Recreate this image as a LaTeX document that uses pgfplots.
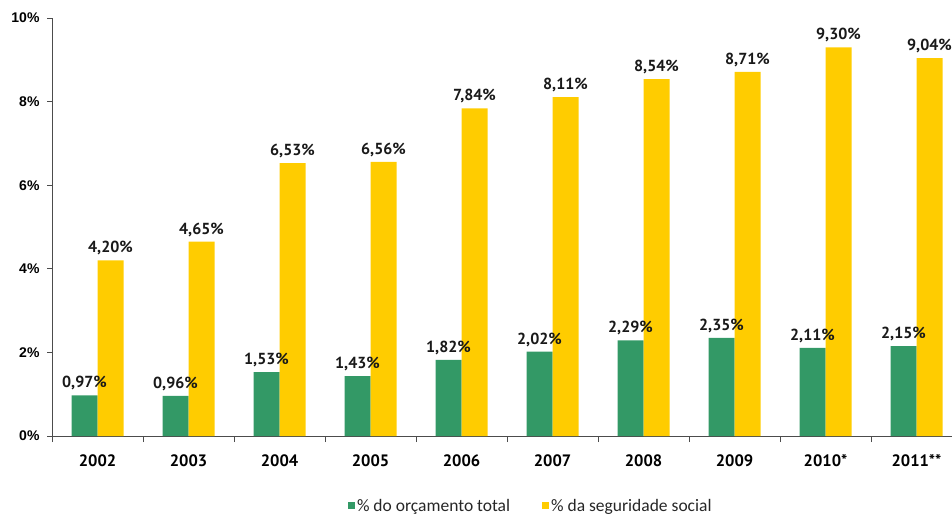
\documentclass[border=0pt]{standalone}
\usepackage{fontspec}
\setmainfont{PT Sans}
\newfontfamily\arialf{Liberation Sans}
\newfontfamily\calib{Carlito}
\usepackage{pgfplots}
\pgfplotsset{compat=1.18}
\definecolor{cgreen}{HTML}{339966}
\definecolor{cyellow}{HTML}{FFCC00}
\begin{document}
\begin{tikzpicture}[x=1pt,y=1pt]
\useasboundingbox (0,0) rectangle (952,515);
\begin{axis}[
  at={(52pt,79pt)}, anchor=south west,
  scale only axis, width=900pt, height=418pt,
  xmin=-0.5, xmax=9.39, ymin=0, ymax=10,
  clip=false,
  axis lines=left,
  axis line style={-, draw=black!70, line width=0.8pt},
  ybar=0pt, bar width=26pt,
  ytick={0,2,4,6,8,10},
  yticklabel={\pgfmathprintnumber{\tick}\%},
  yticklabel style={font=\arialf\bfseries\fontsize{14}{14}\selectfont, xshift=-4pt},
  ytick style={draw=black!70, line width=0.8pt},
  major tick length=5pt, tick align=outside,
  /pgf/number format/assume math mode=true,
  xtick={0,...,9},
  xticklabels={2002,2003,2004,2005,2006,2007,2008,2009,2010*,2011**},
  xticklabel style={font=\bfseries\fontsize{16.5}{16.5}\selectfont, anchor=north, yshift=-10pt},
  xtick style={draw=none},
  extra x ticks={-0.5,0.5,1.5,2.5,3.5,4.5,5.5,6.5,7.5,8.5},
  extra x tick labels={},
  extra x tick style={xtick style={draw=black!70, line width=0.8pt}, major tick length=6pt, tick align=outside},
  nodes near coords={\pgfmathprintnumber[fixed,fixed zerofill,precision=2,use comma,assume math mode=true]{\pgfplotspointmeta}\%},
  nodes near coords style={font=\bfseries\fontsize{16}{16}\selectfont, text=black!90, inner sep=5pt},
  legend style={at={(0.532,-0.167)}, anchor=center, draw=none, fill=none,
    font=\calib\fontsize{17.5}{17.5}\selectfont, text=black!85,
    legend columns=2,
    /tikz/every even column/.append style={column sep=30pt}},
  legend image code/.code={\fill[#1] (0pt,-3.5pt) rectangle (7pt,3.5pt);},
]
\addplot[fill=cgreen, draw=none] coordinates {
  (0,0.97) (1,0.96) (2,1.53) (3,1.43) (4,1.82) (5,2.02) (6,2.29) (7,2.35) (8,2.11) (9,2.15)};
\addplot[fill=cyellow, draw=none] coordinates {
  (0,4.20) (1,4.65) (2,6.53) (3,6.56) (4,7.84) (5,8.11) (6,8.54) (7,8.71) (8,9.30) (9,9.04)};
\legend{\% do orçamento total, \% da seguridade social}
\end{axis}
\end{tikzpicture}
\end{document}
